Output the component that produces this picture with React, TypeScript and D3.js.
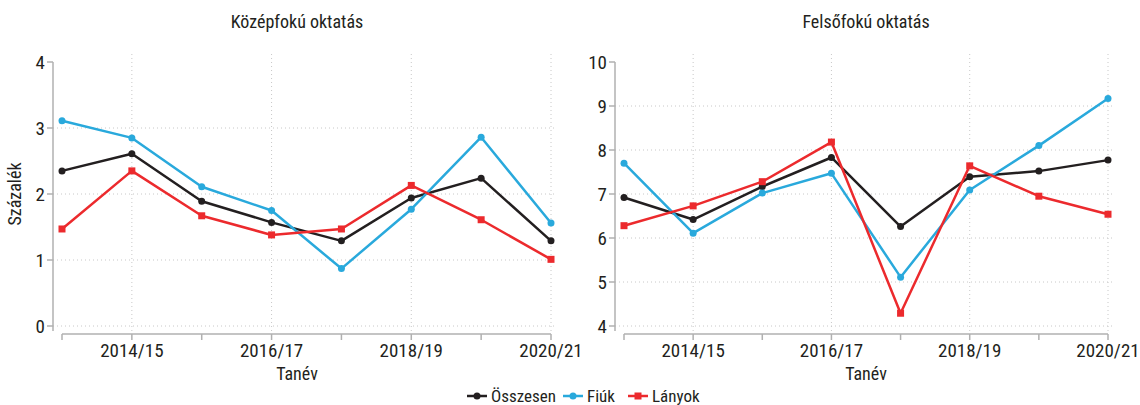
import React from 'react';
import * as d3 from 'd3';

const years = ['2013/14', '2014/15', '2015/16', '2016/17', '2017/18', '2018/19', '2019/20', '2020/21'];
const labelYears = ['2014/15', '2016/17', '2018/19', '2020/21'];

const kozepOsszesen = [2.35, 2.61, 1.89, 1.57, 1.29, 1.94, 2.24, 1.29];
const kozepFiuk = [3.11, 2.85, 2.11, 1.75, 0.87, 1.77, 2.86, 1.56];
const kozepLanyok = [1.47, 2.35, 1.67, 1.38, 1.47, 2.13, 1.61, 1.01];

const felsoOsszesen = [6.92, 6.42, 7.17, 7.83, 6.26, 7.39, 7.52, 7.77];
const felsoFiuk = [7.70, 6.11, 7.02, 7.47, 5.11, 7.09, 8.10, 9.17];
const felsoLanyok = [6.28, 6.73, 7.28, 8.18, 4.29, 7.64, 6.95, 6.54];

const seriesNames = ['Összesen', 'Fiúk', 'Lányok'];
const colors = ['#231f20', '#29a9dc', '#ec2a2d'];
const FONT = '"Roboto Condensed", Roboto, sans-serif';

type PanelProps = {
  title: string;
  titleX: number;
  left: number;
  right: number;
  domain: [number, number];
  ticks: number[];
  data: number[][];
  showYTitle?: boolean;
};

const Panel = ({ title, titleX, left, right, domain, ticks, data, showYTitle }: PanelProps) => {
  const top = 62;
  const bottom = 326;
  const axisY = 334;
  const x0 = left + 9;
  const x = d3.scalePoint<string>().domain(years).range([x0, right]);
  const y = d3.scaleLinear().domain(domain).range([bottom, top]);
  const line = d3.line<number>().x((_, i) => x(years[i]) as number).y(d => y(d));

  return (
    <g>
      <text x={titleX} y={28} textAnchor="middle" fontSize={18} fill="#231f20">{title}</text>
      {/* horizontal grid */}
      {ticks.filter(t => t !== domain[1]).map(t => (
        <line key={'h' + t} x1={left} x2={right + 4} y1={y(t)} y2={y(t)}
          stroke="#c8c8c8" strokeWidth={1} strokeDasharray="1,3" />
      ))}
      {/* vertical grid */}
      {labelYears.map(yr => (
        <line key={'v' + yr} x1={x(yr)} x2={x(yr)} y1={54} y2={axisY}
          stroke="#c8c8c8" strokeWidth={1} strokeDasharray="1,3" />
      ))}
      {/* y axis */}
      <line x1={left} x2={left} y1={top} y2={331} stroke="#b0b0b0" strokeWidth={1.5} />
      {ticks.map(t => (
        <g key={'yt' + t}>
          <line x1={left - 6} x2={left} y1={y(t)} y2={y(t)} stroke="#b0b0b0" strokeWidth={1.5} />
          <text x={left - 8} y={y(t)} dy="0.35em" textAnchor="end" fontSize={19} fill="#231f20">{t}</text>
        </g>
      ))}
      {/* x axis */}
      <line x1={x0} x2={right} y1={axisY} y2={axisY} stroke="#b0b0b0" strokeWidth={1.5} />
      {years.map(yr => (
        <line key={'xt' + yr} x1={x(yr)} x2={x(yr)} y1={axisY} y2={axisY + 6} stroke="#b0b0b0" strokeWidth={1.5} />
      ))}
      {labelYears.map(yr => (
        <text key={'xl' + yr} x={x(yr)} y={357} textAnchor="middle" fontSize={19} fill="#231f20">{yr}</text>
      ))}
      <text x={titleX} y={380} textAnchor="middle" fontSize={18} fill="#231f20">Tanév</text>
      {showYTitle && (
        <text transform={`translate(21,${(top + bottom) / 2}) rotate(-90)`} textAnchor="middle" fontSize={18} fill="#231f20">Százalék</text>
      )}
      {/* series */}
      {data.map((vals, si) => (
        <g key={'s' + si}>
          <path d={line(vals) || ''} fill="none" stroke={colors[si]} strokeWidth={2.5} strokeLinejoin="round" />
          {vals.map((v, i) =>
            si === 2 ? (
              <rect key={i} x={(x(years[i]) as number) - 3.5} y={y(v) - 3.5} width={7} height={7} fill={colors[si]} />
            ) : (
              <circle key={i} cx={x(years[i]) as number} cy={y(v)} r={3.5} fill={colors[si]} />
            )
          )}
        </g>
      ))}
    </g>
  );
};

const Legend = () => {
  const items = [467, 563, 628];
  return (
    <g>
      {seriesNames.map((name, i) => (
        <g key={name} transform={`translate(${items[i]},396)`}>
          <line x1={0} x2={20} y1={0} y2={0} stroke={colors[i]} strokeWidth={2.5} />
          {i === 2 ? (
            <rect x={6.5} y={-3.5} width={7} height={7} fill={colors[i]} />
          ) : (
            <circle cx={10} cy={0} r={3.5} fill={colors[i]} />
          )}
          <text x={24} y={0} dy="0.35em" fontSize={17} fill="#231f20">{name}</text>
        </g>
      ))}
    </g>
  );
};

export default function App() {
  return (
    <svg width={1140} height={405} style={{ position: 'absolute', left: 0, top: 0, fontFamily: FONT }}>
      <rect width={1140} height={405} fill="#ffffff" />
      <Panel title="Középfokú oktatás" titleX={297} left={53} right={551} domain={[0, 4]} ticks={[0, 1, 2, 3, 4]}
        data={[kozepOsszesen, kozepFiuk, kozepLanyok]} showYTitle />
      <Panel title="Felsőfokú oktatás" titleX={866} left={615} right={1108} domain={[4, 10]} ticks={[4, 5, 6, 7, 8, 9, 10]}
        data={[felsoOsszesen, felsoFiuk, felsoLanyok]} />
      <Legend />
    </svg>
  );
}
